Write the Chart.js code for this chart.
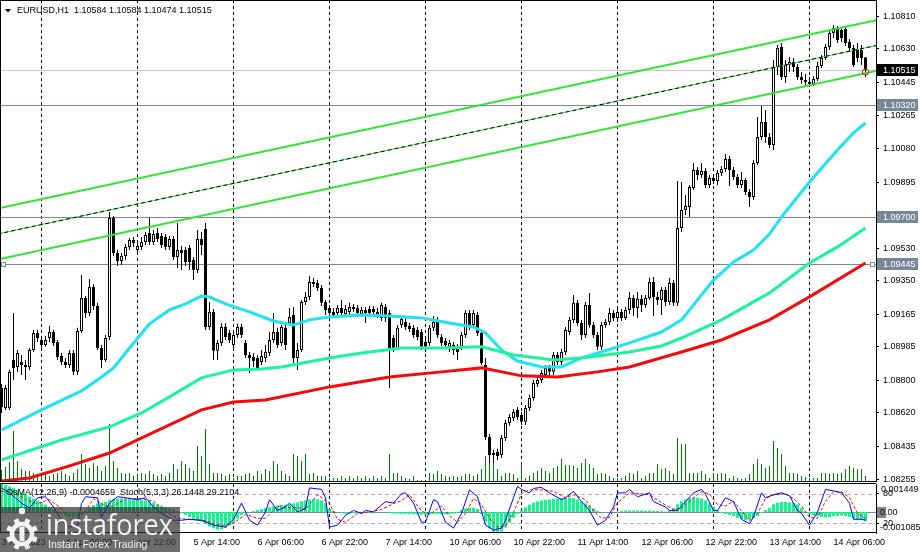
<!DOCTYPE html>
<html><head><meta charset="utf-8">
<script src="https://cdn.jsdelivr.net/npm/chart.js@4/dist/chart.umd.min.js"></script>
<style>
html,body{margin:0;padding:0;background:#fff;overflow:hidden}
#wrap{position:relative;width:923px;height:552px;background:#fff}
canvas{position:absolute;left:0}
#main{top:0}
#sub{top:482px}
</style></head><body>
<div id="wrap"><canvas id="main" width="923" height="482"></canvas><canvas id="sub" width="923" height="70"></canvas></div>
<script>
// ---------------- DATA ----------------
const symbol = "EURUSD", timeframe = "H1";
// H1 candles, bar 0 = 3 Apr 2023 14:00 ... bar 216 = 14 Apr 2023 14:00
const OPEN = [1.08758,1.08648,1.08648,1.08913,1.08874,1.08902,1.08885,1.08874,1.08968,1.09062,1.09023,1.08996,1.09034,1.09067,1.09012,1.08935,1.08902,1.08885,1.08951,1.08847,
1.09073,1.09255,1.09172,1.09316,1.09211,1.08979,1.08913,1.09040,1.09697,1.09503,1.09459,1.09487,1.09537,1.09575,1.09520,1.09537,1.09564,1.09614,1.09564,1.09614,
1.09597,1.09592,1.09537,1.09581,1.09481,1.09520,1.09520,1.09531,1.09465,1.09410,1.09581,1.09636,1.09095,1.09178,1.08963,1.09007,1.09095,1.09062,1.08996,1.09051,
1.09095,1.09007,1.08940,1.08929,1.08924,1.08902,1.08924,1.08951,1.09023,1.09067,1.09007,1.09090,1.09117,1.09161,1.08924,1.08968,1.09233,1.09261,1.09343,1.09338,
1.09310,1.09233,1.09200,1.09178,1.09172,1.09200,1.09167,1.09178,1.09205,1.09200,1.09167,1.09189,1.09194,1.09194,1.09178,1.09145,1.09205,1.09172,1.09034,1.08979,
1.09106,1.09123,1.09101,1.09090,1.09078,1.09067,1.09012,1.09007,1.09090,1.09134,1.09040,1.09018,1.08985,1.08996,1.08985,1.08985,1.09051,1.09172,1.09106,1.09161,
1.09062,1.08885,1.08488,1.08388,1.08405,1.08388,1.08482,1.08565,1.08593,1.08637,1.08609,1.08571,1.08648,1.08703,1.08780,1.08802,1.08830,1.08869,1.08847,1.08940,
1.08902,1.08957,1.09067,1.09134,1.09228,1.09117,1.09051,1.09216,1.09106,1.09051,1.08985,1.09106,1.09123,1.09172,1.09145,1.09178,1.09145,1.09189,1.09255,1.09200,
1.09250,1.09216,1.09255,1.09343,1.09261,1.09244,1.09299,1.09233,1.09338,1.09228,1.09641,1.09741,1.09757,1.09862,1.09962,1.09934,1.09956,1.09879,1.09917,1.09901,
1.09945,1.09967,1.10022,1.09962,1.09923,1.09879,1.09906,1.09840,1.09813,1.10000,1.10144,1.10227,1.10144,1.10100,1.10530,1.10641,1.10475,1.10541,1.10558,1.10530,
1.10475,1.10458,1.10447,1.10436,1.10464,1.10536,1.10580,1.10641,1.10718,1.10745,1.10734,1.10740,1.10668,1.10635,1.10624,1.10624,1.10584];
const HIGH = [1.08780,1.08775,1.08858,1.09172,1.08968,1.08940,1.08913,1.08979,1.09078,1.09078,1.09045,1.09045,1.09101,1.09078,1.09023,1.08951,1.08924,1.08968,1.08968,1.09090,
1.09382,1.09266,1.09360,1.09332,1.09228,1.08996,1.09051,1.09730,1.09708,1.09520,1.09503,1.09553,1.09586,1.09592,1.09564,1.09592,1.09619,1.09697,1.09630,1.09641,
1.09614,1.09608,1.09597,1.09597,1.09669,1.09542,1.09537,1.09548,1.09481,1.09630,1.09619,1.09669,1.09233,1.09194,1.09023,1.09117,1.09117,1.09078,1.09078,1.09112,
1.09112,1.09023,1.08957,1.08951,1.08940,1.08968,1.08996,1.09067,1.09172,1.09090,1.09106,1.09106,1.09200,1.09205,1.09007,1.09244,1.09288,1.09377,1.09366,1.09354,
1.09327,1.09244,1.09216,1.09200,1.09216,1.09244,1.09216,1.09228,1.09222,1.09216,1.09205,1.09205,1.09211,1.09211,1.09200,1.09228,1.09222,1.09189,1.09051,1.09106,
1.09156,1.09145,1.09117,1.09106,1.09095,1.09084,1.09029,1.09106,1.09156,1.09150,1.09056,1.09034,1.09023,1.09012,1.09001,1.09067,1.09189,1.09189,1.09189,1.09178,
1.09078,1.08924,1.08504,1.08416,1.08422,1.08499,1.08582,1.08615,1.08642,1.08653,1.08626,1.08664,1.08720,1.08802,1.08819,1.08858,1.08885,1.08885,1.08957,1.08957,
1.08974,1.09095,1.09150,1.09272,1.09244,1.09134,1.09233,1.09283,1.09123,1.09067,1.09123,1.09139,1.09200,1.09189,1.09194,1.09194,1.09205,1.09288,1.09272,1.09288,
1.09272,1.09272,1.09366,1.09371,1.09288,1.09316,1.09316,1.09366,1.09354,1.09901,1.09895,1.09824,1.09879,1.10000,1.09978,1.10000,1.09973,1.09934,1.09934,1.09962,
1.09984,1.10050,1.10039,1.09978,1.09940,1.09951,1.09917,1.09857,1.10017,1.10254,1.10315,1.10293,1.10166,1.10569,1.10652,1.10663,1.10569,1.10585,1.10580,1.10547,
1.10503,1.10492,1.10475,1.10480,1.10558,1.10596,1.10657,1.10734,1.10762,1.10756,1.10751,1.10756,1.10685,1.10652,1.10663,1.10652,1.10584];
const LOW = [1.08620,1.08637,1.08637,1.08802,1.08847,1.08830,1.08802,1.08858,1.08957,1.09012,1.08979,1.08985,1.09012,1.08990,1.08913,1.08885,1.08869,1.08869,1.08830,1.08830,
1.09062,1.09145,1.09156,1.09189,1.08968,1.08869,1.08902,1.09023,1.09487,1.09432,1.09437,1.09465,1.09520,1.09537,1.09509,1.09520,1.09548,1.09548,1.09548,1.09564,
1.09531,1.09520,1.09520,1.09465,1.09421,1.09410,1.09432,1.09410,1.09354,1.09393,1.09492,1.09078,1.09078,1.08913,1.08913,1.08990,1.09023,1.09007,1.08979,1.09034,
1.09034,1.08924,1.08841,1.08874,1.08858,1.08885,1.08902,1.08935,1.09007,1.08979,1.08990,1.08968,1.09101,1.08896,1.08858,1.08957,1.09216,1.09244,1.09316,1.09294,
1.09211,1.09161,1.09156,1.09145,1.09156,1.09156,1.09150,1.09161,1.09178,1.09150,1.09150,1.09117,1.09156,1.09161,1.09145,1.09128,1.09123,1.08758,1.08957,1.08968,
1.09090,1.09078,1.09067,1.09034,1.09023,1.08968,1.08957,1.08990,1.09073,1.09034,1.08990,1.08979,1.08957,1.08940,1.08913,1.08968,1.09034,1.09078,1.09090,1.09045,
1.08885,1.08471,1.08344,1.08344,1.08361,1.08372,1.08466,1.08549,1.08576,1.08582,1.08554,1.08554,1.08631,1.08687,1.08764,1.08786,1.08814,1.08825,1.08830,1.08885,
1.08885,1.08940,1.09051,1.09117,1.09101,1.09023,1.09034,1.09090,1.09034,1.08968,1.08968,1.09090,1.09106,1.09128,1.09123,1.09128,1.09134,1.09167,1.09156,1.09145,
1.09178,1.09200,1.09244,1.09156,1.09216,1.09161,1.09211,1.09216,1.09211,1.09211,1.09619,1.09713,1.09702,1.09851,1.09906,1.09917,1.09862,1.09862,1.09884,1.09879,
1.09928,1.09951,1.09873,1.09906,1.09862,1.09862,1.09824,1.09757,1.09796,1.09989,1.10127,1.10111,1.10083,1.10072,1.10486,1.10458,1.10442,1.10503,1.10503,1.10458,
1.10436,1.10431,1.10425,1.10425,1.10453,1.10525,1.10569,1.10624,1.10690,1.10663,1.10668,1.10646,1.10613,1.10530,1.10558,1.10541,1.10474];
const CLOSE = [1.08653,1.08758,1.08847,1.08869,1.08951,1.08885,1.08874,1.08968,1.09062,1.09034,1.08996,1.09023,1.09067,1.09007,1.08929,1.08902,1.08885,1.08951,1.08847,1.09073,
1.09255,1.09172,1.09316,1.09211,1.08979,1.08913,1.09034,1.09697,1.09503,1.09459,1.09487,1.09537,1.09575,1.09559,1.09542,1.09564,1.09603,1.09564,1.09608,1.09581,
1.09548,1.09537,1.09581,1.09481,1.09520,1.09503,1.09454,1.09454,1.09410,1.09581,1.09548,1.09095,1.09178,1.08963,1.09007,1.09095,1.09040,1.09023,1.09051,1.09095,
1.09051,1.08940,1.08924,1.08907,1.08869,1.08935,1.08957,1.09023,1.09067,1.08996,1.09095,1.08996,1.09150,1.08924,1.08968,1.09233,1.09261,1.09343,1.09332,1.09310,
1.09228,1.09189,1.09172,1.09161,1.09200,1.09172,1.09194,1.09205,1.09194,1.09172,1.09189,1.09172,1.09172,1.09178,1.09161,1.09216,1.09145,1.08979,1.08979,1.09090,
1.09139,1.09095,1.09084,1.09051,1.09040,1.08985,1.08985,1.09090,1.09123,1.09051,1.09007,1.08996,1.09007,1.08968,1.08957,1.09051,1.09172,1.09095,1.09172,1.09062,
1.08896,1.08488,1.08388,1.08399,1.08383,1.08482,1.08565,1.08598,1.08626,1.08598,1.08571,1.08648,1.08703,1.08786,1.08802,1.08841,1.08869,1.08847,1.08940,1.08902,
1.08957,1.09078,1.09134,1.09228,1.09117,1.09051,1.09216,1.09106,1.09051,1.08985,1.09106,1.09123,1.09172,1.09145,1.09178,1.09145,1.09189,1.09255,1.09200,1.09250,
1.09216,1.09255,1.09343,1.09261,1.09244,1.09299,1.09233,1.09338,1.09228,1.09641,1.09741,1.09763,1.09868,1.09962,1.09934,1.09956,1.09879,1.09917,1.09901,1.09945,
1.09967,1.10022,1.09962,1.09923,1.09879,1.09906,1.09840,1.09813,1.10000,1.10144,1.10227,1.10144,1.10100,1.10530,1.10635,1.10475,1.10541,1.10558,1.10530,1.10475,
1.10458,1.10447,1.10436,1.10464,1.10536,1.10580,1.10641,1.10718,1.10745,1.10679,1.10690,1.10663,1.10635,1.10541,1.10580,1.10580,1.10515];
const VOLUME = [240,300,400,1020,420,260,220,220,180,160,180,160,120,160,180,220,160,120,180,260,
560,360,280,380,320,220,320,1160,420,280,180,160,180,120,160,180,160,220,160,120,
160,120,180,360,260,420,360,280,220,720,520,1060,360,180,180,160,120,160,80,120,
120,160,180,120,220,160,260,220,420,360,220,160,120,560,520,420,560,160,180,120,
120,120,80,80,80,120,80,120,80,120,80,120,80,120,80,120,80,560,180,180,
120,80,60,120,40,40,20,180,160,220,160,120,100,120,100,120,160,160,120,160,
260,520,620,380,260,120,180,180,160,80,360,80,120,180,220,280,220,180,280,320,
460,340,340,320,280,380,460,360,280,160,180,160,120,80,80,80,120,180,160,220,
80,120,180,180,360,260,280,220,160,880,760,760,180,180,180,220,160,80,180,160,
180,160,80,120,80,60,80,160,360,460,360,280,320,820,680,560,320,180,180,160,
120,100,80,80,80,180,180,160,180,160,180,260,320,280,260,260,120];
// Moving averages (read at selected bars)
const maFastBars = [0,10,20,25,28,32,37,42,46,50,52,56,62,68,73,77,82,90,97,105,112,118,121,125,129,135,140,145,150,157,165,170,178,183,188,192,195,202,209,213,216];
const maFast = [1.08526,1.08637,1.08742,1.08819,1.08869,1.08979,1.09112,1.09189,1.09222,1.09266,1.09261,1.09222,1.09178,1.09128,1.09106,1.09134,1.09150,1.09161,1.09156,1.09145,1.09117,1.09095,1.09062,1.08968,1.08907,1.08874,1.08874,1.08924,1.08957,1.09007,1.09067,1.09134,1.09354,1.09454,1.09520,1.09608,1.09702,1.09895,1.10072,1.10166,1.10221];
const maMidBars = [0,15,27,35,42,50,58,65,70,82,90,100,110,120,128,138,145,157,165,170,180,192,202,209,216];
const maMid = [1.08361,1.08471,1.08543,1.08620,1.08709,1.08814,1.08858,1.08863,1.08874,1.08924,1.08951,1.08979,1.08979,1.08985,1.08940,1.08913,1.08924,1.08957,1.08990,1.09034,1.09134,1.09283,1.09448,1.09537,1.09641];
const maSlowBars = [0,7,17,27,34,50,58,66,82,97,110,120,130,139,149,157,170,180,192,202,216];
const maSlow = [1.08245,1.08261,1.08328,1.08399,1.08471,1.08637,1.08681,1.08692,1.08764,1.08819,1.08847,1.08869,1.08825,1.08819,1.08847,1.08874,1.08957,1.09023,1.09134,1.09261,1.09448];
// Channel (anchor points)
const channelBars = [-1, 220];
const channelUpper = [1.09749, 1.10795];
const channelMid = [1.09608, 1.10655];
const channelLower = [1.09467, 1.10514];
// Horizontal levels
const bidPrice = 1.10515;
const levelPrices = [1.10320, 1.09700, 1.09445];
const markerBar = 216, markerPrice = 1.10503;
// Axis ticks
const priceTicks = [1.10810,1.10630,1.10445,1.10265,1.10080,1.09895,1.09530,1.09350,1.09165,1.08985,1.08800,1.08620,1.08435,1.08255];
const timeLabels = ["3 Apr 2023","4 Apr 06:00","4 Apr 22:00","5 Apr 14:00","6 Apr 06:00","6 Apr 22:00","7 Apr 14:00","10 Apr 06:00","10 Apr 22:00","11 Apr 14:00","12 Apr 06:00","12 Apr 22:00","13 Apr 14:00","14 Apr 06:00"];
const timeLabelBars = [0,16,32,48,64,80,96,112,128,144,160,176,192,208];
const daySepBars = [10,34,58,82,106,130,154,178,202];
// OsMA(12,26,9) histogram, one value per bar
const OSMA = [0.001449,0.0014,0.00132,0.00125,0.00112,0.001,0.0009,0.0008,0.0007,0.0006,0.0005,0.00038,0.00025,0.00012,0,-0.0001,-0.00018,-0.00024,-0.00026,-0.00022,
-0.0001,0.00005,0.0002,0.00035,0.00045,0.00048,0.00052,0.00062,0.00068,0.0007,0.0007,0.00068,0.00066,0.00065,0.00064,0.00062,0.0006,0.00055,0.00048,0.0004,
0.00032,0.00025,0.00018,0.00012,0.00005,-0.00005,-0.00015,-0.00025,-0.00035,-0.00045,-0.0005,-0.00062,-0.00075,-0.00085,-0.00092,-0.0009,-0.00082,-0.0007,-0.00055,-0.00035,
-0.00015,-0.00005,0,0.00005,0.0001,0.00015,0.0002,0.00025,0.0003,0.00033,0.00036,0.00038,0.0004,0.00045,0.0005,0.00056,0.0006,0.00064,0.00066,0.00066,
0.0006,0.00045,0.00015,0.00005,0,-0.00005,-0.00008,-0.00008,-0.00006,-0.00004,-0.00003,-0.00003,-0.00004,-0.00004,-0.00003,-0.00002,0,-0.00006,-0.00008,-0.00008,
-0.0001,-0.0001,-0.00012,-0.00012,-0.00012,-0.00014,-0.00014,-0.00012,-0.0001,-0.0001,-0.00012,-0.00012,-0.0001,-0.00008,-0.00005,0.0001,0.00018,0.00022,0.00022,0.00015,
-0.0001,-0.0005,-0.00085,-0.00105,-0.001085,-0.001,-0.0008,-0.00055,-0.0003,-0.0001,0.0001,0.00025,0.00038,0.00048,0.00055,0.0006,0.00063,0.00065,0.00068,0.0007,
0.00072,0.00074,0.00074,0.00072,0.00065,0.00055,0.00045,0.00032,0.00018,0.00005,0,-0.00002,-0.00003,0,0.00003,0.00005,0.00008,0.00008,0.00008,0.00008,
0.00008,0.00006,0.00008,0.00006,0.00005,0.00004,0.00002,0.00008,0.0002,0.0004,0.00055,0.00065,0.00072,0.00075,0.00074,0.0007,0.0006,0.00045,0.00028,0.0001,
-0.00005,-0.0001,-0.00015,-0.00022,-0.0003,-0.00036,-0.00041,-0.0004,-0.00032,-0.0002,-0.00005,0.0001,0.00022,0.0004,0.00048,0.00052,0.00052,0.0005,0.00048,0.0004,
0.0002,0.00002,-0.0001,-0.00018,-0.00022,-0.00025,-0.00028,-0.00026,-0.00022,-0.0002,-0.00018,-0.0002,-0.00025,-0.00032,-0.00038,-0.00042,-0.0004659];
const osmaMax = 0.001449, osmaMin = -0.001085;
// Stochastic(5,3,3), read at selected bars
const stochMainBars = [0,2,5,7,9,11,13,15,17,19,20,21,24,25,27,29,31,34,36,38,40,43,45,47,50,53,56,58,60,62,64,66,67,69,71,72,74,76,77,80,81,82,84,86,88,90,91,93,95,96,98,100,101,103,105,106,108,109,111,113,115,117,119,121,123,125,126,128,129,130,132,133,135,137,140,141,143,145,147,149,151,153,154,156,157,159,162,163,166,167,169,171,173,175,176,178,179,181,183,185,187,188,190,191,193,195,197,199,200,202,204,206,208,210,212,213,215,216];
const stochMain = [92,82,61,51,72,74,53,26,12,16,60,74,72,32,61,74,72,68,72,53,40,26,26,28,26,16,12,28,61,26,16,43,68,46,53,61,43,50,92,89,72,12,16,36,46,40,46,43,57,64,61,80,82,61,22,22,68,64,22,10,40,88,74,16,6,10,26,72,95,89,82,91,93,82,68,72,85,64,46,16,26,53,82,82,89,74,82,64,53,46,46,64,82,89,79,46,46,72,64,28,19,33,82,72,78,82,76,46,40,16,43,89,86,82,61,28,28,26.1448];
const stochSignalBars = [0,3,6,9,12,15,18,21,23,26,28,31,35,38,41,44,48,51,55,58,61,64,66,69,71,74,76,79,82,84,86,89,92,95,98,100,102,105,107,110,112,114,116,118,120,122,124,126,128,130,132,135,138,141,143,146,148,150,152,154,157,160,162,165,168,170,173,175,177,179,181,183,185,187,189,191,193,196,198,200,202,204,206,208,210,212,214,216];
const stochSignal = [85,84,68,60,68,50,22,45,70,55,55,70,70,65,45,30,27,25,15,20,38,30,30,55,52,52,48,78,60,28,22,40,43,48,60,66,78,45,38,55,35,22,40,70,58,30,12,14,42,80,88,88,85,72,78,68,45,30,32,62,82,80,78,62,48,50,72,84,80,58,55,65,45,25,40,70,78,80,70,55,32,30,65,84,84,72,40,29.2104];
const stochLevels = [80, 20];

// ---------------- CHART ----------------
const FONT = '"Liberation Sans", Arial, sans-serif';
Chart.defaults.font.family = FONT;
Chart.defaults.font.size = 9;
Chart.defaults.color = '#000';
const idx = CLOSE.map((_, i) => i);
const pts = (bars, vals) => bars.map((b, k) => ({x: b, y: vals[k]}));
const X_MIN = -0.375, X_MAX = 218.625;
const noPad = s => { s.paddingTop = 0; s.paddingBottom = 0; s.paddingLeft = 0; s.paddingRight = 0; };

const mainDecor = {
  id: 'mainDecor',
  beforeDatasetsDraw(chart) {
    const {ctx, chartArea: a, scales: {x, y}} = chart;
    ctx.save();
    ctx.lineWidth = 1;
    ctx.strokeStyle = '#000';
    ctx.setLineDash([3, 3]);
    daySepBars.forEach(b => { const px = x.getPixelForValue(b); ctx.beginPath(); ctx.moveTo(px, a.top); ctx.lineTo(px, a.bottom); ctx.stroke(); });
    ctx.setLineDash([]);
    const hl = (v, c) => { const py = Math.round(y.getPixelForValue(v)) + 0.5; ctx.strokeStyle = c; ctx.beginPath(); ctx.moveTo(a.left, py); ctx.lineTo(a.right, py); ctx.stroke(); };
    hl(bidPrice, '#c8c8c8');
    levelPrices.forEach(v => hl(v, '#7a8898'));
    ctx.restore();
  },
  afterDraw(chart) {
    const {ctx, chartArea: a, scales: {x, y}} = chart;
    ctx.save();
    ctx.strokeStyle = '#ff0000'; ctx.lineWidth = 1;
    ctx.beginPath(); ctx.arc(x.getPixelForValue(markerBar), y.getPixelForValue(markerPrice), 3.2, 0, Math.PI * 2); ctx.stroke();
    const ly = Math.round(y.getPixelForValue(levelPrices[2]));
    ctx.fillStyle = '#fff'; ctx.strokeStyle = '#7a8898';
    ctx.fillRect(a.left + 1, ly - 2, 4, 4); ctx.strokeRect(a.left + 1.5, ly - 1.5, 4, 4);
    ctx.fillRect(a.right - 5, ly - 2, 4, 4); ctx.strokeRect(a.right - 5.5, ly - 1.5, 4, 4);
    ctx.font = '9px ' + FONT; ctx.textBaseline = 'middle'; ctx.textAlign = 'left';
    const box = (v, bg, fg) => { const py = Math.round(y.getPixelForValue(v)); ctx.fillStyle = bg; ctx.fillRect(a.right + 1, py - 6, 41, 12); ctx.fillStyle = fg; ctx.fillText(v.toFixed(5), a.right + 7, py + 0.5); };
    levelPrices.forEach(v => box(v, '#778899', '#fff'));
    box(bidPrice, '#000', '#fff');
    ctx.fillStyle = '#000';
    ctx.beginPath(); ctx.moveTo(5, 9); ctx.lineTo(11, 9); ctx.lineTo(8, 12.5); ctx.closePath(); ctx.fill();
    const n = CLOSE.length - 1;
    ctx.fillText(`${symbol},${timeframe}  ${OPEN[n].toFixed(5)} ${HIGH[n].toFixed(5)} ${LOW[n].toFixed(5)} ${CLOSE[n].toFixed(5)}`, 17, 11);
    ctx.strokeStyle = '#000'; ctx.lineWidth = 1;
    ctx.beginPath();
    ctx.moveTo(0, 0.5); ctx.lineTo(a.right, 0.5);
    ctx.moveTo(0.5, 0); ctx.lineTo(0.5, a.bottom);
    ctx.moveTo(0, a.bottom - 0.5); ctx.lineTo(a.right, a.bottom - 0.5);
    ctx.stroke();
    ctx.restore();
  }
};

new Chart(document.getElementById('main'), {
  type: 'bar',
  data: { datasets: [
    {type: 'bar', data: idx.map(i => ({x: i, y: VOLUME[i]})), yAxisID: 'vol', backgroundColor: '#007a00', barThickness: 1, grouped: false, inflateAmount: 0, order: 10},
    {type: 'bar', data: idx.map(i => ({x: i, y: [LOW[i], HIGH[i]]})), yAxisID: 'y', backgroundColor: '#000', barThickness: 1, grouped: false, inflateAmount: 0, order: 4},
    {type: 'bar', data: idx.map(i => ({x: i, y: [OPEN[i], CLOSE[i]]})), yAxisID: 'y', backgroundColor: idx.map(i => CLOSE[i] >= OPEN[i] ? '#fff' : '#000'), borderColor: '#000', borderWidth: 1, borderSkipped: false, barThickness: 3, grouped: false, inflateAmount: 0, minBarLength: 1, order: 3},
    {type: 'line', data: pts(maSlowBars, maSlow), yAxisID: 'y', borderColor: '#f50a0a', borderWidth: 3, pointRadius: 0, clip: 0, order: 2},
    {type: 'line', data: pts(maMidBars, maMid), yAxisID: 'y', borderColor: '#1ef29e', borderWidth: 3, pointRadius: 0, clip: 0, order: 2},
    {type: 'line', data: pts(maFastBars, maFast), yAxisID: 'y', borderColor: '#1ee3f2', borderWidth: 3, pointRadius: 0, clip: 0, order: 2},
    {type: 'line', data: pts(channelBars, channelUpper), yAxisID: 'y', borderColor: '#2ee62e', borderWidth: 2, pointRadius: 0, clip: 0, order: 1},
    {type: 'line', data: pts(channelBars, channelLower), yAxisID: 'y', borderColor: '#2ee62e', borderWidth: 2, pointRadius: 0, clip: 0, order: 1},
    {type: 'line', data: pts(channelBars, channelMid), yAxisID: 'y', borderColor: '#2ee62e', borderWidth: 1, pointRadius: 0, clip: 0, order: 1},
    {type: 'line', data: pts(channelBars, channelMid), yAxisID: 'y', borderColor: '#000', borderWidth: 1, borderDash: [4, 3], pointRadius: 0, clip: 0, order: 0}
  ]},
  options: {
    responsive: false, animation: false, devicePixelRatio: 1, events: [],
    layout: {padding: 0},
    plugins: {legend: {display: false}, tooltip: {enabled: false}},
    scales: {
      x: {type: 'linear', min: X_MIN, max: X_MAX, display: false, offset: false, grid: {offset: false}, afterFit: noPad},
      y: {type: 'linear', position: 'right', min: 1.08239, max: 1.10900,
          afterBuildTicks: s => { s.ticks = priceTicks.map(v => ({value: v})); },
          afterFit: s => { s.width = 47; noPad(s); },
          ticks: {callback: v => Number(v).toFixed(5), padding: 4, autoSkip: false, color: '#000', font: {size: 9}},
          grid: {drawOnChartArea: false, drawTicks: true, tickLength: 3, tickColor: '#000'},
          border: {display: true, color: '#000', width: 1}},
      vol: {type: 'linear', display: false, min: 0, max: 9640, afterFit: noPad}
    }
  },
  plugins: [mainDecor]
});

const subDecor = {
  id: 'subDecor',
  beforeDatasetsDraw(chart) {
    const {ctx, chartArea: a, scales: {x, st, macd}} = chart;
    ctx.save();
    ctx.lineWidth = 1;
    ctx.strokeStyle = '#000'; ctx.setLineDash([3, 3]);
    daySepBars.forEach(b => { const px = x.getPixelForValue(b); ctx.beginPath(); ctx.moveTo(px, a.top); ctx.lineTo(px, a.bottom); ctx.stroke(); });
    ctx.strokeStyle = '#b4b4b4'; ctx.setLineDash([4, 3]);
    stochLevels.forEach(v => { const py = Math.round(st.getPixelForValue(v)) + 0.5; ctx.beginPath(); ctx.moveTo(a.left, py); ctx.lineTo(a.right, py); ctx.stroke(); });
    ctx.setLineDash([]);
    ctx.strokeStyle = '#7a8898';
    const zy = Math.round(macd.getPixelForValue(0)) + 0.5;
    ctx.beginPath(); ctx.moveTo(a.left, zy); ctx.lineTo(a.right, zy); ctx.stroke();
    ctx.restore();
  },
  afterDraw(chart) {
    const {ctx, chartArea: a, scales: {macd}} = chart;
    ctx.save();
    ctx.font = '9px ' + FONT; ctx.textAlign = 'left'; ctx.textBaseline = 'middle'; ctx.fillStyle = '#000';
    ctx.fillText(`OsMA(12,26,9) ${OSMA[OSMA.length - 1].toFixed(7)}  Stoch(5,3,3) ${stochMain[stochMain.length - 1].toFixed(4)} ${stochSignal[stochSignal.length - 1].toFixed(4)}`, 6, a.top + 9);
    ctx.fillText(osmaMax.toFixed(6), a.right + 5, macd.getPixelForValue(osmaMax) + 6);
    ctx.fillText(osmaMin.toFixed(6), a.right + 4, macd.getPixelForValue(osmaMin) - 5);
    const zy = Math.round(macd.getPixelForValue(0));
    ctx.fillStyle = '#778899'; ctx.fillRect(a.right + 1, zy - 5, 9, 11);
    ctx.fillStyle = '#000'; ctx.fillText('0.00', a.right + 4, zy + 0.5);
    ctx.strokeStyle = '#000'; ctx.lineWidth = 1;
    ctx.beginPath();
    ctx.moveTo(0, a.top - 0.5); ctx.lineTo(a.right, a.top - 0.5);
    ctx.moveTo(0.5, a.top - 1); ctx.lineTo(0.5, a.bottom);
    ctx.moveTo(0, a.bottom - 0.5); ctx.lineTo(a.right, a.bottom - 0.5);
    ctx.stroke();
    // watermark
    const wy = 25;
    ctx.fillStyle = 'rgba(52,52,52,0.72)';
    ctx.fillRect(0, wy, 180, chart.height - wy);
    ctx.fillStyle = '#f2f2f2'; ctx.strokeStyle = '#f2f2f2';
    const gx = 22, gy = 52;
    ctx.lineWidth = 4.5; ctx.beginPath(); ctx.arc(gx, gy, 10, 0, Math.PI * 2); ctx.stroke();
    for (let k = 0; k < 8; k++) { const ang = k * Math.PI / 4 + Math.PI / 8; ctx.save(); ctx.translate(gx, gy); ctx.rotate(ang); ctx.fillRect(-2.5, -16, 5, 6); ctx.restore(); }
    ctx.fillRect(gx - 2.5, gy - 7, 5, 14);
    ctx.beginPath(); ctx.arc(gx, gy - 23, 3.2, 0, Math.PI * 2); ctx.fill();
    ctx.font = '29px "Open Sans", "Noto Sans", sans-serif'; ctx.textBaseline = 'alphabetic';
    ctx.fillText('instaforex', 46, 53, 127);
    ctx.font = '10.5px ' + FONT;
    ctx.fillText('Instant Forex Trading', 48, 66, 100);
    ctx.restore();
  }
};

new Chart(document.getElementById('sub'), {
  type: 'bar',
  data: { datasets: [
    {type: 'bar', data: idx.map(i => ({x: i, y: OSMA[i]})), yAxisID: 'macd', backgroundColor: '#14f590', barThickness: 3, grouped: false, inflateAmount: 0, order: 3},
    {type: 'line', data: pts(stochSignalBars, stochSignal), yAxisID: 'st', borderColor: '#ff0000', borderWidth: 1, borderDash: [3, 2], pointRadius: 0, clip: 0, order: 2},
    {type: 'line', data: pts(stochMainBars, stochMain), yAxisID: 'st', borderColor: '#0000ff', borderWidth: 1, pointRadius: 0, clip: 0, order: 1}
  ]},
  options: {
    responsive: false, animation: false, devicePixelRatio: 1, events: [],
    layout: {padding: {top: 2, left: 0, right: 0, bottom: 0}},
    plugins: {legend: {display: false}, tooltip: {enabled: false}},
    scales: {
      x: {type: 'linear', min: X_MIN, max: X_MAX, offset: false, position: 'bottom',
          afterBuildTicks: s => { s.ticks = timeLabelBars.map(v => ({value: v})); },
          afterFit: s => { s.height = 19; noPad(s); },
          ticks: {callback: v => timeLabels[timeLabelBars.indexOf(v)], align: 'start', padding: -4, autoSkip: false, maxRotation: 0, minRotation: 0, color: '#000', font: {size: 9}},
          grid: {display: false, offset: false}, border: {display: false}},
      st: {type: 'linear', position: 'right', min: 0, max: 100,
           afterBuildTicks: s => { s.ticks = stochLevels.map(v => ({value: v})); },
           afterFit: s => { s.width = 47; noPad(s); },
           ticks: {callback: v => String(v), padding: 4, autoSkip: false, color: '#000', font: {size: 9}},
           grid: {drawOnChartArea: false, drawTicks: true, tickLength: 3, tickColor: '#000'},
           border: {display: true, color: '#000', width: 1}},
      macd: {type: 'linear', display: false, min: osmaMin, max: osmaMax, afterFit: noPad}
    }
  },
  plugins: [subDecor]
});
</script></body></html>
